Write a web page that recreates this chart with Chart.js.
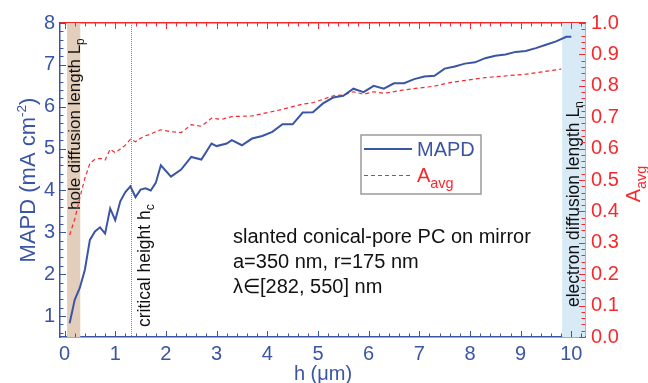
<!DOCTYPE html>
<html>
<head>
<meta charset="utf-8">
<script src="https://cdn.jsdelivr.net/npm/chart.js@4/dist/chart.umd.min.js"></script>
<style>
  html, body { margin: 0; padding: 0; background: #fff; }
  #wrap { width: 648px; height: 383px; }
</style>
</head>
<body>
<div id="wrap"><canvas id="mapdChart" width="648" height="383"></canvas></div>
<script>
// values
const hMapd = [0.1, 0.2, 0.3, 0.4, 0.5, 0.6, 0.7, 0.8, 0.9, 1.0, 1.1, 1.2, 1.3, 1.4, 1.5, 1.6, 1.7, 1.8, 1.9,
  2.1, 2.3, 2.5, 2.7, 2.9, 3.0, 3.2, 3.3, 3.5, 3.7, 3.9, 4.1, 4.3, 4.5, 4.7, 4.9, 5.1, 5.3, 5.5, 5.7, 5.9,
  6.1, 6.3, 6.5, 6.7, 6.9, 7.1, 7.3, 7.5, 7.7, 7.9, 8.1, 8.3, 8.5, 8.7, 8.9, 9.1, 9.3, 9.5, 9.7, 9.9, 10.0];
const mapd = [0.83, 1.39, 1.67, 2.10, 2.82, 3.02, 3.12, 2.97, 3.57, 3.29, 3.74, 3.96, 4.10, 3.84, 4.02, 4.05, 4.00, 4.18, 4.60,
  4.33, 4.50, 4.80, 4.74, 5.12, 5.06, 5.12, 5.20, 5.08, 5.24, 5.30, 5.40, 5.58, 5.58, 5.86, 5.87, 6.08, 6.22, 6.26, 6.43, 6.35,
  6.50, 6.43, 6.56, 6.56, 6.66, 6.72, 6.74, 6.91, 6.96, 7.03, 7.06, 7.16, 7.22, 7.25, 7.31, 7.33, 7.40, 7.48, 7.56, 7.67, 7.67];

const hAbs = [0.1, 0.2, 0.3, 0.4, 0.5, 0.6, 0.7, 0.8, 0.9, 1.0, 1.1, 1.2, 1.3, 1.4, 1.5, 1.6, 1.7, 1.8, 1.9,
  2.1, 2.3, 2.5, 2.7, 2.9, 3.1, 3.3, 3.7, 4.3, 4.7, 4.9, 5.1, 5.3, 5.5, 5.7, 5.9, 6.1, 6.3, 6.7, 7.3, 7.6, 8.3, 9.1, 9.8];
const aAvg = [0.325, 0.375, 0.442, 0.505, 0.553, 0.566, 0.569, 0.564, 0.598, 0.587, 0.599, 0.611, 0.630, 0.622, 0.633, 0.641, 0.646, 0.654, 0.660,
  0.654, 0.651, 0.676, 0.671, 0.697, 0.693, 0.702, 0.704, 0.725, 0.742, 0.746, 0.757, 0.768, 0.771, 0.781, 0.773, 0.781, 0.776, 0.787, 0.799, 0.810, 0.826, 0.837, 0.853];

const xTicks = [0, 1, 2, 3, 4, 5, 6, 7, 8, 9, 10];
const yTicks = [1, 2, 3, 4, 5, 6, 7, 8];
const y1Ticks = [0, 0.1, 0.2, 0.3, 0.4, 0.5, 0.6, 0.7, 0.8, 0.9, 1.0];

const holeBand = [0.05, 0.31];      // L_p
const electronBand = [9.82, 10.27]; // L_n
const criticalH = 1.32;

const infoLines = ['slanted conical-pore PC on mirror', 'a=350 nm, r=175 nm', 'λ∈[282, 550] nm'];

const BLUE = '#3b55a5';
const RED = '#f42a2e';
const FONT = "'Liberation Sans', Arial, sans-serif";

// text with sub/superscripts, optionally rotated -90deg
function richText(ctx, parts, x, y, size, color, rotated, align) {
  ctx.save();
  ctx.fillStyle = color;
  ctx.textBaseline = 'alphabetic';
  ctx.textAlign = 'left';
  let total = 0;
  parts.forEach(p => {
    ctx.font = (size * (p.s || 1)) + 'px ' + FONT;
    total += ctx.measureText(p.t).width;
  });
  ctx.translate(x, y);
  if (rotated) ctx.rotate(-Math.PI / 2);
  let cx = align === 'center' ? -total / 2 : 0;
  parts.forEach(p => {
    ctx.font = (size * (p.s || 1)) + 'px ' + FONT;
    ctx.fillText(p.t, cx, (p.dy || 0) * size);
    cx += ctx.measureText(p.t).width;
  });
  ctx.restore();
}

const backdrop = {
  id: 'backdrop',
  beforeDatasetsDraw(chart) {
    const { ctx, chartArea: a, scales: { x } } = chart;
    ctx.save();
    ctx.fillStyle = '#e3cebb';
    ctx.fillRect(x.getPixelForValue(holeBand[0]), a.top, x.getPixelForValue(holeBand[1]) - x.getPixelForValue(holeBand[0]), a.bottom - a.top);
    ctx.fillStyle = '#d7eaf5';
    ctx.fillRect(x.getPixelForValue(electronBand[0]), a.top, x.getPixelForValue(electronBand[1]) - x.getPixelForValue(electronBand[0]), a.bottom - a.top);
    const xc = Math.round(x.getPixelForValue(criticalH)) + 0.5;
    ctx.strokeStyle = '#8a8a8a';
    ctx.lineWidth = 1;
    ctx.setLineDash([1, 1]);
    ctx.beginPath();
    ctx.moveTo(xc, a.top);
    ctx.lineTo(xc, a.bottom);
    ctx.stroke();
    ctx.restore();

    richText(ctx, [{ t: 'hole diffusion length L' }, { t: 'p', s: 0.7, dy: 0.25 }], 80, 210, 17, '#111', true);
    richText(ctx, [{ t: 'critical height h' }, { t: 'c', s: 0.7, dy: 0.25 }], 150, 327, 17.5, '#111', true);
    richText(ctx, [{ t: 'electron diffusion length L' }, { t: 'n', s: 0.7, dy: 0.25 }], 579, 307, 17.5, '#111', true);
  }
};

function ticksFor(ctx, scale, from, to, step, majorEvery, color, side) {
  const n = Math.round((to - from) / step);
  ctx.strokeStyle = color;
  ctx.lineWidth = 1;
  for (let i = 0; i <= n; i++) {
    const v = from + i * step;
    if (v < scale.min - 1e-9 || v > scale.max + 1e-9) continue;
    const major = Math.abs(v / majorEvery - Math.round(v / majorEvery)) < 1e-6;
    const len = major ? 6 : 3.5;
    const p = Math.round(scale.getPixelForValue(v)) + 0.5;
    ctx.beginPath();
    if (side === 'left') { ctx.moveTo(scale.right, p); ctx.lineTo(scale.right + len, p); }
    if (side === 'right') { ctx.moveTo(scale.left, p); ctx.lineTo(scale.left - len, p); }
    if (side === 'bottom') { ctx.moveTo(p, scale.top); ctx.lineTo(p, scale.top - len); }
    if (side === 'top') { ctx.moveTo(p, scale.bottom); ctx.lineTo(p, scale.bottom + len); }
    ctx.stroke();
  }
}

const overlay = {
  id: 'overlay',
  afterDraw(chart) {
    const { ctx, scales } = chart;
    ctx.save();
    ticksFor(ctx, scales.y, 0.6, 8, 0.2, 1, BLUE, 'left');
    ticksFor(ctx, scales.y1, 0, 1, 0.02, 0.1, RED, 'right');
    ticksFor(ctx, scales.x, 0, 10.2, 0.2, 1, BLUE, 'bottom');
    ticksFor(ctx, scales.x2, 0, 10.2, 0.2, 1, RED, 'top');
    ctx.restore();

    // axis titles
    richText(ctx, [{ t: 'MAPD (mA cm' }, { t: '-2', s: 0.62, dy: -0.42 }, { t: ')' }], 35, 180, 22, BLUE, true, 'center');
    richText(ctx, [{ t: 'A' }, { t: 'avg', s: 0.72, dy: 0.3 }], 640, 184, 20, RED, true, 'center');
    richText(ctx, [{ t: 'h (μm)' }], 323, 380, 20, BLUE, false, 'center');

    // info block
    infoLines.forEach((t, i) => richText(ctx, [{ t }], 233, 243 + i * 25, 20, '#111', false));

    // legend
    ctx.save();
    ctx.fillStyle = '#fff';
    ctx.fillRect(361, 135, 120, 59);
    ctx.strokeStyle = '#9a9a9a';
    ctx.lineWidth = 1.5;
    ctx.strokeRect(361, 135, 120, 59);
    ctx.strokeStyle = BLUE;
    ctx.lineWidth = 2;
    ctx.beginPath(); ctx.moveTo(364, 149); ctx.lineTo(412, 149); ctx.stroke();
    ctx.strokeStyle = RED;
    ctx.lineWidth = 1.2;
    ctx.setLineDash([4, 3]);
    ctx.beginPath(); ctx.moveTo(364, 175.5); ctx.lineTo(410, 175.5); ctx.stroke();
    ctx.restore();
    richText(ctx, [{ t: 'MAPD' }], 417, 156, 20, BLUE, false);
    richText(ctx, [{ t: 'A' }, { t: 'avg', s: 0.72, dy: 0.3 }], 417, 182, 20, RED, false);
  }
};

const fixedTicks = list => scale => { scale.ticks = list.map(v => ({ value: v })); };

new Chart(document.getElementById('mapdChart').getContext('2d'), {
  type: 'line',
  data: {
    datasets: [
      {
        label: 'MAPD',
        data: hMapd.map((h, i) => ({ x: h, y: mapd[i] })),
        yAxisID: 'y',
        borderColor: BLUE,
        borderWidth: 2,
        pointRadius: 0,
        tension: 0
      },
      {
        label: 'A_avg',
        data: hAbs.map((h, i) => ({ x: h, y: aAvg[i] })),
        yAxisID: 'y1',
        borderColor: RED,
        borderWidth: 1.2,
        borderDash: [4, 3],
        pointRadius: 0,
        tension: 0
      }
    ]
  },
  options: {
    responsive: false,
    animation: false,
    layout: { padding: 0 },
    plugins: { legend: { display: false }, tooltip: { enabled: false } },
    scales: {
      x: {
        type: 'linear', position: 'bottom', min: -0.09, max: 10.27,
        afterBuildTicks: fixedTicks(xTicks),
        afterFit: s => { s.height = 46; },
        grid: { display: false, drawTicks: false },
        border: { color: BLUE, width: 1.5 },
        ticks: { color: BLUE, font: { family: FONT, size: 20 }, padding: 5, maxRotation: 0, autoSkip: false }
      },
      x2: {
        type: 'linear', position: 'top', min: -0.09, max: 10.27,
        afterFit: s => { s.height = 23; },
        grid: { display: false, drawTicks: false },
        border: { color: RED, width: 1.5 },
        ticks: { display: false }
      },
      y: {
        type: 'linear', position: 'left', min: 0.5, max: 8,
        afterBuildTicks: fixedTicks(yTicks),
        afterFit: s => { s.width = 60; },
        grid: { display: false, drawTicks: false },
        border: { color: BLUE, width: 1.5 },
        ticks: { color: BLUE, font: { family: FONT, size: 20 }, padding: 5 }
      },
      y1: {
        type: 'linear', position: 'right', min: 0, max: 1,
        afterBuildTicks: fixedTicks(y1Ticks),
        afterFit: s => { s.width = 63; },
        grid: { display: false, drawTicks: false },
        border: { color: RED, width: 1.5 },
        ticks: { color: RED, font: { family: FONT, size: 20 }, padding: 6, callback: v => v.toFixed(1) }
      }
    }
  },
  plugins: [backdrop, overlay]
});
</script>
</body>
</html>
